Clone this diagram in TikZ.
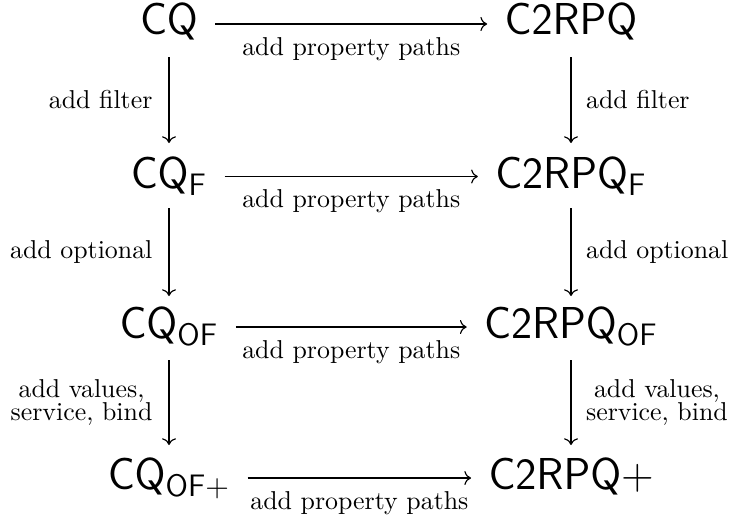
\documentclass[tikz,border=0pt]{standalone}
\usetikzlibrary{arrows.meta,calc}
\begin{document}
\begin{tikzpicture}[x=0.3867pt,y=-0.3867pt,
  obj/.style={inner sep=0pt, anchor=base, font=\LARGE},
  arr/.style={line width=0.45pt, -{Computer Modern Rightarrow}},
  hlab/.style={anchor=base, yshift=-12pt, font=\normalsize, inner sep=0pt},
  vlab/.style={align=center, inner sep=0pt,
    font={\normalsize\baselineskip=9pt\lineskiplimit=-20pt}},
  llab/.style={vlab, anchor=east, xshift=-6.2pt},
  rlab/.style={vlab, anchor=west, xshift=5.6pt}]
\useasboundingbox (0,0) rectangle (731,517);
\node[obj] (cq)   at (169,34)  {$\mathsf{CQ}$};
\node[obj] (c2)   at (571,34)  {$\mathsf{C2RPQ}$};
\node[obj] (cqf)  at (169,188) {$\mathsf{CQ}_{\mathsf{F}}$};
\node[obj] (c2f)  at (571,188) {$\mathsf{C2RPQ}_{\mathsf{F}}$};
\node[obj] (cqof) at (169,338) {$\mathsf{CQ}_{\mathsf{OF}}$};
\node[obj] (c2of) at (571,338) {$\mathsf{C2RPQ}_{\mathsf{OF}}$};
\node[obj] (cqp)  at (169,489) {$\mathsf{CQ}_{\mathsf{OF}+}$};
\node[obj] (c2p)  at (571,489) {$\mathsf{C2RPQ}+$};
% horizontal
\draw[arr] ($(cq.base east)+(17,-10)$) -- node[hlab]{add property paths} ($(c2.base west)+(-17,-10)$);
\draw[arr] ($(cqf.base east)+(17,-11.5)$) -- node[hlab]{add property paths} ($(c2f.base west)+(-17,-11.5)$);
\draw[arr] ($(cqof.base east)+(17,-11)$) -- node[hlab]{add property paths} ($(c2of.base west)+(-17,-11)$);
\draw[arr] ($(cqp.base east)+(17,-11)$) -- node[hlab]{add property paths} ($(c2p.base west)+(-17,-11)$);
% vertical left
\draw[arr] ($(cq.base)+(0,23)$) -- node[llab]{add filter} ($(cqf.base)+(0,-45)$);
\draw[arr] ($(cqf.base)+(0,20)$) -- node[llab]{add optional} ($(cqof.base)+(0,-42)$);
\draw[arr] ($(cqof.base)+(0,22)$) -- node[llab]{add values,\\ service, bind} ($(cqp.base)+(0,-44)$);
% vertical right
\draw[arr] ($(c2.base)+(0,23)$) -- node[rlab]{add filter} ($(c2f.base)+(0,-45)$);
\draw[arr] ($(c2f.base)+(0,20)$) -- node[rlab]{add optional} ($(c2of.base)+(0,-42)$);
\draw[arr] ($(c2of.base)+(0,22)$) -- node[rlab]{add values,\\ service, bind} ($(c2p.base)+(0,-44)$);
\end{tikzpicture}
\end{document}
